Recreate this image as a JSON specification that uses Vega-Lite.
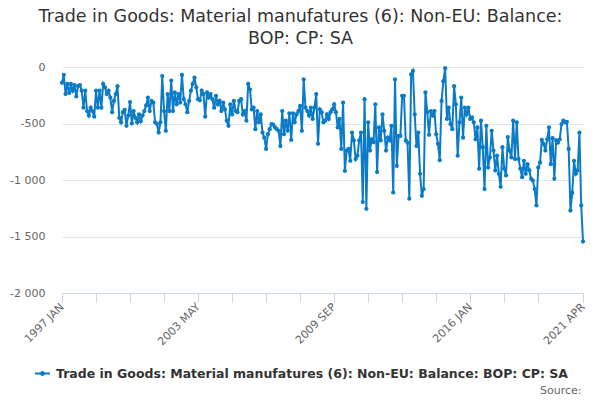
{
  "$schema": "https://vega.github.io/schema/vega-lite/v6.json",
  "autosize": "none",
  "padding": {"left": 62, "top": 67, "right": 17, "bottom": 107},
  "width": 521,
  "height": 226,
  "background": "white",
  "config": {
    "font": "DejaVu Sans",
    "view": {"stroke": null}
  },
  "title": {
    "text": ["Trade in Goods: Material manufatures (6): Non-EU: Balance:", "BOP: CP: SA"],
    "font": "DejaVu Sans",
    "fontSize": 17.5,
    "fontWeight": "normal",
    "color": "#333333",
    "lineHeight": 22,
    "anchor": "middle",
    "dx": -22,
    "offset": 14
  },
  "data": {
    "values": [
      {"month":"1997 JAN","value":-140},{"month":"1997 FEB","value":-70},{"month":"1997 MAR","value":-240},{"month":"1997 APR","value":-150},{"month":"1997 MAY","value":-230},{"month":"1997 JUN","value":-150},{"month":"1997 JUL","value":-210},{"month":"1997 AUG","value":-160},{"month":"1997 SEP","value":-260},{"month":"1997 OCT","value":-170},{"month":"1997 NOV","value":-160},{"month":"1997 DEC","value":-210},
      {"month":"1998 JAN","value":-360},{"month":"1998 FEB","value":-210},{"month":"1998 MAR","value":-390},{"month":"1998 APR","value":-430},{"month":"1998 MAY","value":-360},{"month":"1998 JUN","value":-390},{"month":"1998 JUL","value":-440},{"month":"1998 AUG","value":-210},{"month":"1998 SEP","value":-360},{"month":"1998 OCT","value":-210},{"month":"1998 NOV","value":-360},{"month":"1998 DEC","value":-150},
      {"month":"1999 JAN","value":-180},{"month":"1999 FEB","value":-240},{"month":"1999 MAR","value":-210},{"month":"1999 APR","value":-270},{"month":"1999 MAY","value":-400},{"month":"1999 JUN","value":-300},{"month":"1999 JUL","value":-240},{"month":"1999 AUG","value":-170},{"month":"1999 SEP","value":-450},{"month":"1999 OCT","value":-490},{"month":"1999 NOV","value":-400},{"month":"1999 DEC","value":-380},
      {"month":"2000 JAN","value":-520},{"month":"2000 FEB","value":-430},{"month":"2000 MAR","value":-310},{"month":"2000 APR","value":-500},{"month":"2000 MAY","value":-390},{"month":"2000 JUN","value":-450},{"month":"2000 JUL","value":-490},{"month":"2000 AUG","value":-420},{"month":"2000 SEP","value":-480},{"month":"2000 OCT","value":-430},{"month":"2000 NOV","value":-390},{"month":"2000 DEC","value":-340},
      {"month":"2001 JAN","value":-270},{"month":"2001 FEB","value":-390},{"month":"2001 MAR","value":-300},{"month":"2001 APR","value":-315},{"month":"2001 MAY","value":-490},{"month":"2001 JUN","value":-505},{"month":"2001 JUL","value":-580},{"month":"2001 AUG","value":-490},{"month":"2001 SEP","value":-80},{"month":"2001 OCT","value":-390},{"month":"2001 NOV","value":-565},{"month":"2001 DEC","value":-240},
      {"month":"2002 JAN","value":-390},{"month":"2002 FEB","value":-120},{"month":"2002 MAR","value":-390},{"month":"2002 APR","value":-225},{"month":"2002 MAY","value":-330},{"month":"2002 JUN","value":-240},{"month":"2002 JUL","value":-315},{"month":"2002 AUG","value":-70},{"month":"2002 SEP","value":-285},{"month":"2002 OCT","value":-330},{"month":"2002 NOV","value":-400},{"month":"2002 DEC","value":-300},
      {"month":"2003 JAN","value":-210},{"month":"2003 FEB","value":-150},{"month":"2003 MAR","value":-95},{"month":"2003 APR","value":-180},{"month":"2003 MAY","value":-285},{"month":"2003 JUN","value":-295},{"month":"2003 JUL","value":-210},{"month":"2003 AUG","value":-240},{"month":"2003 SEP","value":-440},{"month":"2003 OCT","value":-225},{"month":"2003 NOV","value":-270},{"month":"2003 DEC","value":-240},
      {"month":"2004 JAN","value":-285},{"month":"2004 FEB","value":-360},{"month":"2004 MAR","value":-255},{"month":"2004 APR","value":-330},{"month":"2004 MAY","value":-300},{"month":"2004 JUN","value":-390},{"month":"2004 JUL","value":-315},{"month":"2004 AUG","value":-375},{"month":"2004 SEP","value":-475},{"month":"2004 OCT","value":-520},{"month":"2004 NOV","value":-330},{"month":"2004 DEC","value":-420},
      {"month":"2005 JAN","value":-300},{"month":"2005 FEB","value":-390},{"month":"2005 MAR","value":-400},{"month":"2005 APR","value":-300},{"month":"2005 MAY","value":-285},{"month":"2005 JUN","value":-420},{"month":"2005 JUL","value":-390},{"month":"2005 AUG","value":-475},{"month":"2005 SEP","value":-150},{"month":"2005 OCT","value":-200},{"month":"2005 NOV","value":-375},{"month":"2005 DEC","value":-360},
      {"month":"2006 JAN","value":-550},{"month":"2006 FEB","value":-390},{"month":"2006 MAR","value":-490},{"month":"2006 APR","value":-420},{"month":"2006 MAY","value":-580},{"month":"2006 JUN","value":-625},{"month":"2006 JUL","value":-725},{"month":"2006 AUG","value":-595},{"month":"2006 SEP","value":-550},{"month":"2006 OCT","value":-505},{"month":"2006 NOV","value":-510},{"month":"2006 DEC","value":-535},
      {"month":"2007 JAN","value":-550},{"month":"2007 FEB","value":-565},{"month":"2007 MAR","value":-700},{"month":"2007 APR","value":-390},{"month":"2007 MAY","value":-595},{"month":"2007 JUN","value":-475},{"month":"2007 JUL","value":-565},{"month":"2007 AUG","value":-410},{"month":"2007 SEP","value":-645},{"month":"2007 OCT","value":-410},{"month":"2007 NOV","value":-490},{"month":"2007 DEC","value":-420},
      {"month":"2008 JAN","value":-390},{"month":"2008 FEB","value":-345},{"month":"2008 MAR","value":-565},{"month":"2008 APR","value":-110},{"month":"2008 MAY","value":-360},{"month":"2008 JUN","value":-390},{"month":"2008 JUL","value":-430},{"month":"2008 AUG","value":-360},{"month":"2008 SEP","value":-460},{"month":"2008 OCT","value":-360},{"month":"2008 NOV","value":-240},{"month":"2008 DEC","value":-680},
      {"month":"2009 JAN","value":-375},{"month":"2009 FEB","value":-400},{"month":"2009 MAR","value":-490},{"month":"2009 APR","value":-475},{"month":"2009 MAY","value":-420},{"month":"2009 JUN","value":-460},{"month":"2009 JUL","value":-400},{"month":"2009 AUG","value":-375},{"month":"2009 SEP","value":-330},{"month":"2009 OCT","value":-400},{"month":"2009 NOV","value":-535},{"month":"2009 DEC","value":-460},
      {"month":"2010 JAN","value":-725},{"month":"2010 FEB","value":-315},{"month":"2010 MAR","value":-920},{"month":"2010 APR","value":-740},{"month":"2010 MAY","value":-725},{"month":"2010 JUN","value":-830},{"month":"2010 JUL","value":-580},{"month":"2010 AUG","value":-650},{"month":"2010 SEP","value":-815},{"month":"2010 OCT","value":-785},{"month":"2010 NOV","value":-650},{"month":"2010 DEC","value":-580},
      {"month":"2011 JAN","value":-1195},{"month":"2011 FEB","value":-285},{"month":"2011 MAR","value":-1255},{"month":"2011 APR","value":-490},{"month":"2011 MAY","value":-740},{"month":"2011 JUN","value":-640},{"month":"2011 JUL","value":-665},{"month":"2011 AUG","value":-330},{"month":"2011 SEP","value":-930},{"month":"2011 OCT","value":-535},{"month":"2011 NOV","value":-650},{"month":"2011 DEC","value":-420},
      {"month":"2012 JAN","value":-565},{"month":"2012 FEB","value":-740},{"month":"2012 MAR","value":-625},{"month":"2012 APR","value":-650},{"month":"2012 MAY","value":-520},{"month":"2012 JUN","value":-1110},{"month":"2012 JUL","value":-110},{"month":"2012 AUG","value":-875},{"month":"2012 SEP","value":-610},{"month":"2012 OCT","value":-610},{"month":"2012 NOV","value":-255},{"month":"2012 DEC","value":-255},
      {"month":"2013 JAN","value":-650},{"month":"2013 FEB","value":-670},{"month":"2013 MAR","value":-1165},{"month":"2013 APR","value":-65},{"month":"2013 MAY","value":-35},{"month":"2013 JUN","value":-420},{"month":"2013 JUL","value":-700},{"month":"2013 AUG","value":-580},{"month":"2013 SEP","value":-945},{"month":"2013 OCT","value":-1140},{"month":"2013 NOV","value":-1080},{"month":"2013 DEC","value":-225},
      {"month":"2014 JAN","value":-400},{"month":"2014 FEB","value":-600},{"month":"2014 MAR","value":-390},{"month":"2014 APR","value":-430},{"month":"2014 MAY","value":-390},{"month":"2014 JUN","value":-595},{"month":"2014 JUL","value":-680},{"month":"2014 AUG","value":-825},{"month":"2014 SEP","value":-300},{"month":"2014 OCT","value":-125},{"month":"2014 NOV","value":-10},{"month":"2014 DEC","value":-460},
      {"month":"2015 JAN","value":-360},{"month":"2015 FEB","value":-505},{"month":"2015 MAR","value":-550},{"month":"2015 APR","value":-170},{"month":"2015 MAY","value":-330},{"month":"2015 JUN","value":-785},{"month":"2015 JUL","value":-490},{"month":"2015 AUG","value":-270},{"month":"2015 SEP","value":-625},{"month":"2015 OCT","value":-360},{"month":"2015 NOV","value":-420},{"month":"2015 DEC","value":-360},
      {"month":"2016 JAN","value":-460},{"month":"2016 FEB","value":-445},{"month":"2016 MAR","value":-490},{"month":"2016 APR","value":-640},{"month":"2016 MAY","value":-535},{"month":"2016 JUN","value":-900},{"month":"2016 JUL","value":-475},{"month":"2016 AUG","value":-710},{"month":"2016 SEP","value":-1080},{"month":"2016 OCT","value":-520},{"month":"2016 NOV","value":-890},{"month":"2016 DEC","value":-800},
      {"month":"2017 JAN","value":-565},{"month":"2017 FEB","value":-740},{"month":"2017 MAR","value":-915},{"month":"2017 APR","value":-785},{"month":"2017 MAY","value":-945},{"month":"2017 JUN","value":-1060},{"month":"2017 JUL","value":-710},{"month":"2017 AUG","value":-900},{"month":"2017 SEP","value":-960},{"month":"2017 OCT","value":-620},{"month":"2017 NOV","value":-740},{"month":"2017 DEC","value":-800},
      {"month":"2018 JAN","value":-475},{"month":"2018 FEB","value":-815},{"month":"2018 MAR","value":-490},{"month":"2018 APR","value":-815},{"month":"2018 MAY","value":-900},{"month":"2018 JUN","value":-975},{"month":"2018 JUL","value":-830},{"month":"2018 AUG","value":-945},{"month":"2018 SEP","value":-860},{"month":"2018 OCT","value":-915},{"month":"2018 NOV","value":-990},{"month":"2018 DEC","value":-1005},
      {"month":"2019 JAN","value":-1080},{"month":"2019 FEB","value":-1225},{"month":"2019 MAR","value":-890},{"month":"2019 APR","value":-845},{"month":"2019 MAY","value":-645},{"month":"2019 JUN","value":-680},{"month":"2019 JUL","value":-740},{"month":"2019 AUG","value":-640},{"month":"2019 SEP","value":-535},{"month":"2019 OCT","value":-860},{"month":"2019 NOV","value":-630},{"month":"2019 DEC","value":-990},
      {"month":"2020 JAN","value":-650},{"month":"2020 FEB","value":-670},{"month":"2020 MAR","value":-640},{"month":"2020 APR","value":-505},{"month":"2020 MAY","value":-475},{"month":"2020 JUN","value":-490},{"month":"2020 JUL","value":-485},{"month":"2020 AUG","value":-725},{"month":"2020 SEP","value":-1270},{"month":"2020 OCT","value":-1115},{"month":"2020 NOV","value":-830},{"month":"2020 DEC","value":-945},
      {"month":"2021 JAN","value":-915},{"month":"2021 FEB","value":-580},{"month":"2021 MAR","value":-1225},{"month":"2021 APR","value":-1545}
    ]
  },
  "encoding": {
    "x": {
      "field": "month",
      "type": "ordinal",
      "sort": null,
      "scale": {"type": "point", "padding": 0},
      "axis": {
        "title": "Source:",
        "titleX": 519,
        "titleY": 97,
        "titleAlign": "right",
        "titleBaseline": "middle",
        "titleFontSize": 11,
        "titleFontWeight": "normal",
        "titleColor": "#666666",
        "titleFont": "DejaVu Sans",
        "values": ["1997 JAN","1998 AUG","2000 MAR","2001 OCT","2003 MAY","2004 DEC","2006 JUL","2008 FEB","2009 SEP","2011 APR","2012 NOV","2014 JUN","2016 JAN","2017 AUG","2019 MAR","2021 APR"],
        "labelExpr": "indexof(['1997 JAN','2003 MAY','2009 SEP','2016 JAN','2021 APR'], datum.value) >= 0 ? datum.value : ''",
        "labelAngle": -45,
        "labelAlign": "right",
        "labelBaseline": "middle",
        "labelPadding": 3,
        "labelFontSize": 11,
        "labelColor": "#666666",
        "labelFont": "DejaVu Sans",
        "labelOverlap": false,
        "labelBound": false,
        "labelFlush": false,
        "domainColor": "#ccd6eb",
        "domainWidth": 1,
        "tickColor": "#ccd6eb",
        "tickSize": 9,
        "tickWidth": 1,
        "grid": false
      }
    },
    "y": {
      "field": "value",
      "type": "quantitative",
      "scale": {"domain": [-2000, 0], "nice": false, "zero": false},
      "axis": {
        "title": null,
        "values": [-2000, -1500, -1000, -500, 0],
        "labelExpr": "datum.value == 0 ? '0' : (datum.value < 0 ? '-' : '') + replace(format(abs(datum.value), ','), ',', ' ')",
        "labelFontSize": 11,
        "labelColor": "#666666",
        "labelFont": "DejaVu Sans",
        "labelPadding": 17,
        "labelBaseline": "middle",
        "domain": false,
        "ticks": false,
        "tickSize": 0,
        "grid": true,
        "gridColor": "#e6e6e6",
        "gridWidth": 1
      }
    },
    "color": {
      "datum": "Trade in Goods: Material manufatures (6): Non-EU: Balance: BOP: CP: SA",
      "type": "nominal",
      "scale": {"range": ["#0b7bc7"]},
      "legend": {
        "title": null,
        "orient": "none",
        "legendX": -27,
        "legendY": 299,
        "labelFont": "DejaVu Sans",
        "labelFontSize": 12.5,
        "labelFontWeight": "bold",
        "labelColor": "#333333",
        "labelLimit": 700,
        "labelOffset": 6,
        "symbolType": "M-1,-0.13H1V0.13H-1Z M-0.33,0A0.33,0.33 0 1,1 0.33,0A0.33,0.33 0 1,1 -0.33,0Z",
        "symbolSize": 225,
        "symbolStrokeWidth": 0,
        "symbolFillColor": "#0b7bc7",
        "encode": {
          "symbols": {
            "update": {
              "fill": {"value": "#0b7bc7"},
              "stroke": {"value": "transparent"},
              "strokeWidth": {"value": 0},
              "opacity": {"value": 1},
              "shape": {"value": "M-1,-0.13H1V0.13H-1Z M-0.33,0A0.33,0.33 0 1,1 0.33,0A0.33,0.33 0 1,1 -0.33,0Z"}
            }
          }
        }
      }
    }
  },
  "layer": [
    {"mark": {"type": "line", "strokeWidth": 2}},
    {"mark": {"type": "point", "filled": true, "size": 18, "opacity": 1, "shape": "circle"}}
  ]
}
